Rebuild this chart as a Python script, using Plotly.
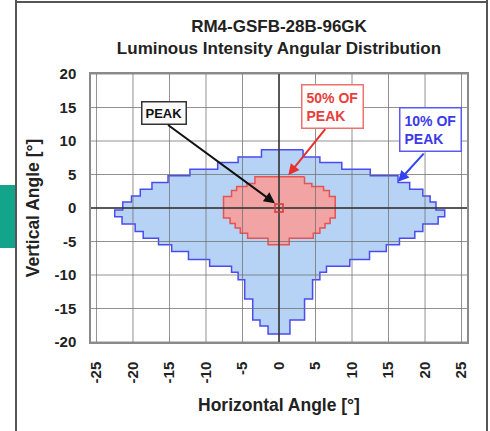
import plotly.graph_objects as go

# ---------------- data ----------------
x_ticks = [-25, -20, -15, -10, -5, 0, 5, 10, 15, 20, 25]
y_ticks = [-20, -15, -10, -5, 0, 5, 10, 15, 20]
x_range = [-25.75, 25.75]
y_range = [-20, 20]

# 10% of peak contour: horizontal bands (edges top->bottom) with left/right extents
p10_edges = [8.7, 7.6, 6.8, 5.8, 4.8, 3.8, 2.8, 1.8, 0.9, -0.3, -1.3, -2.4, -3.5,
             -4.5, -5.5, -6.5, -7.7, -8.7, -9.6, -10.7, -13.6, -16.7, -17.6, -18.8]
p10_left = [-2.4, -5.6, -8.4, -12.2, -15.2, -17.4, -19.0, -20.2, -21.4, -22.5, -21.5,
            -19.7, -18.6, -16.5, -14.7, -12.4, -9.5, -6.5, -5.6, -4.7, -3.6, -2.6, -1.5]
p10_right = [3.3, 5.6, 8.6, 12.5, 16.3, 17.9, 19.7, 20.7, 21.5, 22.7, 21.8,
             19.7, 18.6, 16.5, 14.7, 12.4, 9.7, 6.5, 5.6, 4.6, 3.5, 1.5, 1.5]

# 50% of peak contour
p50_edges = [4.65, 3.65, 3.2, 2.6, 1.7, -1.5, -2.3, -3.0, -3.75, -4.5, -5.5]
p50_left = [-3.3, -4.4, -5.8, -6.5, -7.6, -6.7, -6.0, -5.3, -4.3, -1.5]
p50_right = [3.5, 4.5, 6.1, 6.9, 7.7, 7.0, 6.3, 5.6, 4.7, 1.4]

peak_x = [0]
peak_y = [0]


def stepped_outline(edges, left, right):
    xs, ys = [], []
    for i in range(len(right)):
        xs += [right[i], right[i]]
        ys += [edges[i], edges[i + 1]]
    for i in reversed(range(len(left))):
        xs += [left[i], left[i]]
        ys += [edges[i + 1], edges[i]]
    xs.append(xs[0])
    ys.append(ys[0])
    return xs, ys


fig = go.Figure()

x10, y10 = stepped_outline(p10_edges, p10_left, p10_right)
fig.add_trace(go.Scatter(x=x10, y=y10, mode="lines", fill="toself",
                         fillcolor="#b6d3f6", line=dict(color="#4b4bf2", width=1.5),
                         hoverinfo="skip"))
x50, y50 = stepped_outline(p50_edges, p50_left, p50_right)
fig.add_trace(go.Scatter(x=x50, y=y50, mode="lines", fill="toself",
                         fillcolor="#f2a3a3", line=dict(color="#e35454", width=1.5),
                         hoverinfo="skip"))

# grid drawn over the fills
gx, gy = [], []
for v in x_ticks:
    gx += [v, v, None]
    gy += [y_range[0], y_range[1], None]
for v in y_ticks:
    gx += [x_range[0], x_range[1], None]
    gy += [v, v, None]
fig.add_trace(go.Scatter(x=gx, y=gy, mode="lines",
                         line=dict(color="rgba(110,110,110,0.75)", width=1),
                         hoverinfo="skip"))
# zero lines
fig.add_trace(go.Scatter(x=[0, 0, None, x_range[0], x_range[1]],
                         y=[y_range[0], y_range[1], None, 0, 0], mode="lines",
                         line=dict(color="#333333", width=1.5), hoverinfo="skip"))
# peak marker
fig.add_trace(go.Scatter(x=peak_x, y=peak_y, mode="markers",
                         marker=dict(symbol="square-open", size=8,
                                     color="#d43a3a", line=dict(width=1.5)),
                         hoverinfo="skip"))

font_family = "Liberation Sans, Arial, sans-serif"

fig.update_layout(
    width=490, height=431,
    margin=dict(l=91, r=23, t=74, b=89),
    paper_bgcolor="white", plot_bgcolor="white",
    showlegend=False,
    font=dict(family=font_family, color="#222222"),
    title=dict(text="RM4-GSFB-28B-96GK<br>Luminous Intensity Angular Distribution",
               x=279 / 490, xanchor="center", y=1 - 32 / 431, yanchor="top",
               yref="container",
               font=dict(size=17, weight="bold", color="#222222")),
)

fig.update_xaxes(range=x_range, tickvals=x_ticks, ticktext=[str(v) for v in x_ticks],
                 tickangle=-90, showgrid=False, zeroline=False,
                 showline=True, linecolor="#8a8a8a", linewidth=1.5, mirror=True,
                 ticks="", ticklabelstandoff=12,
                 tickfont=dict(size=15, weight="bold", color="#222222"),
                 title=dict(text="Horizontal Angle [°]", standoff=16,
                            font=dict(size=17.5, weight="bold", color="#222222")))
fig.update_yaxes(range=y_range, tickvals=y_ticks, ticktext=[str(v) for v in y_ticks],
                 showgrid=False, zeroline=False,
                 showline=True, linecolor="#8a8a8a", linewidth=1.5, mirror=True,
                 ticks="", ticklabelstandoff=10,
                 tickfont=dict(size=15, weight="bold", color="#222222"),
                 title=dict(text="Vertical Angle [°]", standoff=10,
                            font=dict(size=17.5, weight="bold", color="#222222")))

# annotation boxes
fig.add_annotation(x=-15.75, y=14.15, xref="x", yref="y", text="PEAK", showarrow=False,
                   font=dict(size=13, weight="bold", color="#111111"),
                   bgcolor="#fafafa", bordercolor="#333333", borderwidth=1.5, borderpad=3)
fig.add_annotation(x=7.33, y=15.2, xref="x", yref="y", text="50% OF<br>PEAK",
                   showarrow=False, align="left",
                   font=dict(size=14, weight="bold", color="#e8403c"),
                   bgcolor="white", bordercolor="#f07070", borderwidth=1.5, borderpad=4)
fig.add_annotation(x=20.75, y=11.7, xref="x", yref="y", text="10% OF<br>PEAK",
                   showarrow=False, align="left",
                   font=dict(size=14, weight="bold", color="#3a3ae8"),
                   bgcolor="white", bordercolor="#5a5af0", borderwidth=1.5, borderpad=4)

# arrows
for (tx, ty, sx, sy, col) in [(-0.55, 0.7, -15.4, 12.55, "#111111"),
                              (1.27, 4.9, 6.5, 12.0, "#e8302c"),
                              (16.3, 3.9, 20.0, 8.35, "#3344ee")]:
    fig.add_annotation(x=tx, y=ty, xref="x", yref="y", ax=sx, ay=sy, axref="x", ayref="y",
                       text="", showarrow=True, arrowhead=2, arrowsize=1.1,
                       arrowwidth=2, arrowcolor=col, standoff=0, startstandoff=0)

# page decorations: outer frame and teal tab
def px_to_paper_x(p):
    return (p - 91) / 376


def px_to_paper_y(p):
    return (342 - p) / 268


fig.add_shape(type="rect", xref="paper", yref="paper",
              x0=px_to_paper_x(0), x1=px_to_paper_x(15),
              y0=px_to_paper_y(248), y1=px_to_paper_y(185),
              fillcolor="#13a58b", line=dict(width=0), layer="above")
for (x0, y0, x1, y1) in [(16, 0, 16, 431), (487, 0, 487, 431), (16, 2, 487, 2)]:
    fig.add_shape(type="line", xref="paper", yref="paper",
                  x0=px_to_paper_x(x0), x1=px_to_paper_x(x1),
                  y0=px_to_paper_y(y0), y1=px_to_paper_y(y1),
                  line=dict(color="#555555", width=2), layer="above")

fig.write_html("out.html", config={"displayModeBar": False},
               post_script="document.body.style.margin='0px';")
